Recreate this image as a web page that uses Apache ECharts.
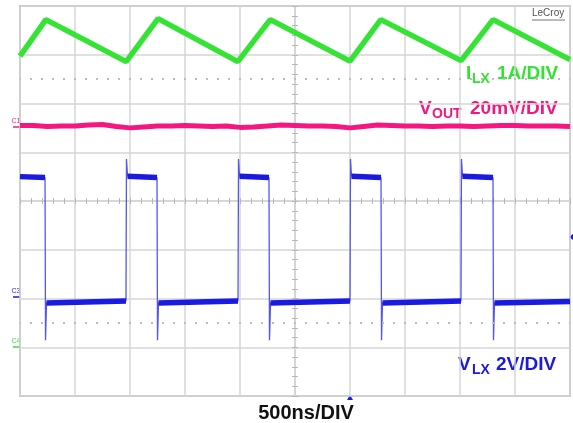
<!DOCTYPE html>
<html>
<head>
<meta charset="utf-8">
<script src="https://cdn.jsdelivr.net/npm/echarts@6/dist/echarts.min.js"></script>
<style>html,body{margin:0;padding:0;background:#fff;}#c{width:573px;height:423px;}</style>
</head>
<body>
<div id="c"></div>
<script>
// x in divisions (-5..5), y in divisions (-4..4)
const greenX = [-5, -4.53, -3.07, -2.49, -1.04, -0.45, 1.0, 1.56, 3.02, 3.6, 5];
const greenY = [2.97, 3.72, 2.86, 3.74, 2.86, 3.72, 2.87, 3.72, 2.88, 3.72, 2.90];

const pinkX = [-5,-4.75,-4.5,-4.25,-4,-3.75,-3.5,-3.25,-3,-2.75,-2.5,-2.25,-2,-1.75,-1.5,-1.25,-1,-0.75,-0.5,-0.25,0,
  0.25,0.5,0.75,1,1.25,1.5,1.75,2,2.25,2.5,2.75,3,3.25,3.5,3.75,4,4.25,4.5,4.75,5];
const pinkY = [1.55,1.55,1.53,1.54,1.54,1.56,1.57,1.53,1.50,1.52,1.54,1.54,1.55,1.54,1.53,1.54,1.51,1.52,1.54,1.56,1.55,
  1.54,1.54,1.53,1.50,1.53,1.56,1.55,1.54,1.54,1.53,1.54,1.54,1.53,1.54,1.55,1.55,1.54,1.54,1.54,1.53];

const blueX = [-5,-4.545,-4.536,-4.518,-3.073,-3.064,-3.045,-2.509,-2.5,-2.482,-1.036,-1.027,-1.009,-0.473,-0.464,-0.445,
  1.0,1.009,1.027,1.564,1.573,1.591,3.018,3.027,3.045,3.6,3.609,3.627,5];
const blueY = [0.50,0.48,-2.854,-2.09,-2.05,0.862,0.51,0.48,-2.854,-2.09,-2.05,0.862,0.51,0.48,-2.854,-2.09,
  -2.05,0.862,0.51,0.48,-2.854,-2.09,-2.05,0.862,0.51,0.48,-2.854,-2.09,-2.06];
// flat (noisy) segments of the switch-node trace: [x0, y0, x1, y1]
const blueFlat = [
  [-5,0.50,-4.545,0.48],[-4.518,-2.09,-3.073,-2.05],[-3.045,0.51,-2.509,0.48],[-2.482,-2.09,-1.036,-2.05],
  [-1.009,0.51,-0.473,0.48],[-0.445,-2.09,1.0,-2.05],[1.027,0.51,1.564,0.48],[1.591,-2.09,3.018,-2.05],
  [3.045,0.51,3.6,0.48],[3.627,-2.09,5,-2.06]
];
const dottedRows = [2.5, -2.5];

const zip = (a, b) => a.map((v, i) => [v, b[i]]);
const flatData = [];
blueFlat.forEach(s => { flatData.push([s[0], s[1]], [s[2], s[3]], [null, null]); });

const gridCol = '#d6d6d6';
const axisCommon = {
  type: 'value', interval: 1,
  axisLabel: { show: false },
  axisLine: { show: true, onZero: true, lineStyle: { color: gridCol, width: 1.5 } },
  axisTick: { show: true, inside: true, length: 3, lineStyle: { color: '#b8b8b8', width: 1 } },
  minorTick: { show: true, splitNumber: 5, length: 3, lineStyle: { color: '#b8b8b8', width: 1 } },
  minorSplitLine: { show: false }
};
const chart = echarts.init(document.getElementById('c'), null, { renderer: 'canvas' });
const F = '"Liberation Sans"';
chart.setOption({
  animation: false,
  backgroundColor: '#fff',
  grid: { left: 20, top: 6, width: 550, height: 390, show: true, borderColor: '#bdbdbd', borderWidth: 2 },
  xAxis: [
    Object.assign({}, axisCommon, { min: -5, max: 5, position: 'bottom',
      splitLine: { show: true, lineStyle: { color: gridCol, width: 1.5 } } }),
    Object.assign({}, axisCommon, { min: -5, max: 5, position: 'bottom', axisTick: Object.assign({}, axisCommon.axisTick, { inside: false }),
      minorTick: Object.assign({}, axisCommon.minorTick), splitLine: { show: false } })
  ],
  yAxis: [
    Object.assign({}, axisCommon, { min: -4, max: 4, position: 'left',
      splitLine: { show: true, lineStyle: { color: gridCol, width: 1.5 } } }),
    Object.assign({}, axisCommon, { min: -4, max: 4, position: 'left', axisTick: Object.assign({}, axisCommon.axisTick, { inside: false }),
      splitLine: { show: false } })
  ],
  series: [
    { type: 'line', name: 'dots', data: [], silent: true,
      markLine: { silent: true, symbol: 'none', label: { show: false },
        lineStyle: { color: '#bcbcbc', width: 2, type: [2, 9], dashOffset: 1 },
        data: dottedRows.map(v => ({ yAxis: v })) } },
    { type: 'line', name: 'VLX edges', data: zip(blueX, blueY), showSymbol: false, silent: true,
      lineStyle: { color: '#5555ee', width: 1.3 }, z: 3 },
    { type: 'line', name: 'VLX', data: flatData, showSymbol: false, silent: true, connectNulls: false,
      lineStyle: { color: '#1a1ae0', width: 5.5 }, z: 4 },
    { type: 'line', name: 'VOUT', data: zip(pinkX, pinkY), showSymbol: false, silent: true,
      lineStyle: { color: '#f5177f', width: 5 }, z: 4 },
    { type: 'line', name: 'ILX', data: zip(greenX, greenY), showSymbol: false, silent: true,
      lineStyle: { color: '#35e335', width: 5.5 }, z: 4 }
  ],
  graphic: [
    { type: 'text', left: 532, top: 8, style: { text: 'LeCroy', font: '10px ' + F, fill: '#555' } },
    { type: 'line', shape: { x1: 532, y1: 20, x2: 565, y2: 20 }, style: { stroke: '#777', lineWidth: 1 } },
    // I_LX label
    { type: 'text', x: 466, y: 74, style: { text: 'I', font: 'bold 19px ' + F, fill: '#33e233', verticalAlign: 'middle' } },
    { type: 'text', x: 472, y: 79, style: { text: 'LX', font: 'bold 14px ' + F, fill: '#33e233', verticalAlign: 'middle' } },
    { type: 'text', x: 497, y: 74, style: { text: '1A/DIV', font: 'bold 19px ' + F, fill: '#33e233', verticalAlign: 'middle' } },
    // V_OUT label
    { type: 'text', x: 419, y: 109, style: { text: 'V', font: 'bold 19px ' + F, fill: '#f5177f', verticalAlign: 'middle' } },
    { type: 'text', x: 432, y: 114, style: { text: 'OUT', font: 'bold 14px ' + F, fill: '#f5177f', verticalAlign: 'middle' } },
    { type: 'text', x: 470, y: 109, style: { text: '20mV/DIV', font: 'bold 19px ' + F, fill: '#f5177f', verticalAlign: 'middle' } },
    // V_LX label
    { type: 'text', x: 458, y: 365, style: { text: 'V', font: 'bold 19px ' + F, fill: '#1a1ae0', verticalAlign: 'middle' } },
    { type: 'text', x: 472, y: 370, style: { text: 'LX', font: 'bold 14px ' + F, fill: '#1a1ae0', verticalAlign: 'middle' } },
    { type: 'text', x: 496, y: 365, style: { text: '2V/DIV', font: 'bold 19px ' + F, fill: '#1a1ae0', verticalAlign: 'middle' } },
    // time base
    { type: 'text', x: 306, y: 413, style: { text: '500ns/DIV', font: 'bold 20px ' + F, fill: '#111', align: 'center', verticalAlign: 'middle' } },
    // channel markers
    { type: 'text', x: 16, y: 121, style: { text: 'C1', font: '7px ' + F, fill: '#f5177f', align: 'center', verticalAlign: 'middle' } },
    { type: 'line', shape: { x1: 13, y1: 127, x2: 20, y2: 127 }, style: { stroke: '#f5177f', lineWidth: 1.5 } },
    { type: 'text', x: 16, y: 291, style: { text: 'C3', font: '7px ' + F, fill: '#1a1ae0', align: 'center', verticalAlign: 'middle' } },
    { type: 'line', shape: { x1: 13, y1: 297, x2: 20, y2: 297 }, style: { stroke: '#1a1ae0', lineWidth: 1.5 } },
    { type: 'text', x: 16, y: 341, style: { text: 'C4', font: '7px ' + F, fill: '#33e233', align: 'center', verticalAlign: 'middle' } },
    { type: 'line', shape: { x1: 13, y1: 347, x2: 20, y2: 347 }, style: { stroke: '#33e233', lineWidth: 1.5 } },
    // trigger markers
    { type: 'polygon', shape: { points: [[350, 395], [347, 400], [353, 400]] }, style: { fill: '#1a1ae0' } },
    { type: 'polygon', shape: { points: [[569, 237], [573, 234], [573, 240]] }, style: { fill: '#1a1ae0' } }
  ]
});
</script>
</body>
</html>
